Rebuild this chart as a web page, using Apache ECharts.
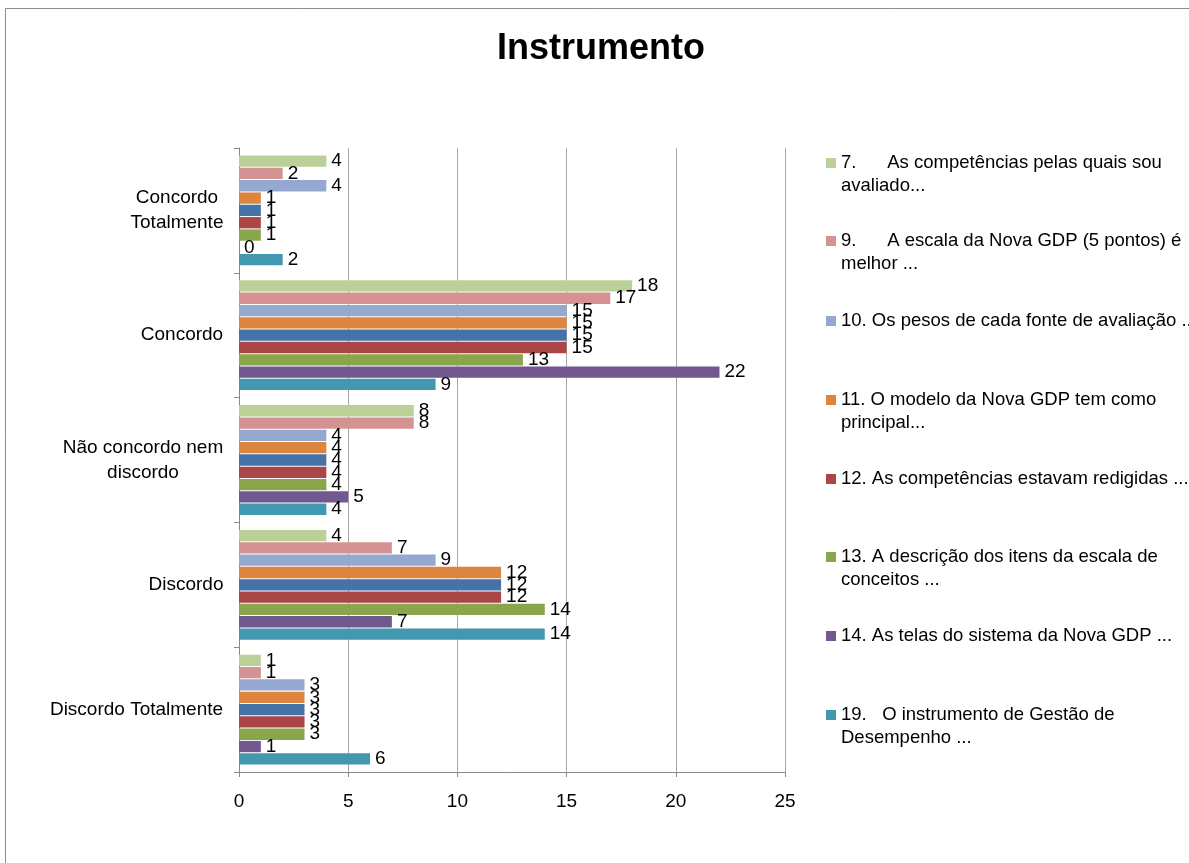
<!DOCTYPE html>
<html>
<head>
<meta charset="utf-8">
<title>Instrumento</title>
<script src="https://cdn.jsdelivr.net/npm/echarts@6/dist/echarts.min.js"></script>
<style>
  html, body { margin: 0; padding: 0; background: #fff; }
  #chart { width: 1189px; height: 863px; }
</style>
</head>
<body>
<div id="chart"></div>
<script>
// Response categories, top to bottom
const categories = [
  'Concordo\nTotalmente',
  'Concordo',
  'Não concordo nem\ndiscordo',
  'Discordo',
  'Discordo Totalmente'
];

// Counts per statement (same order as categories)
const q7  = [4, 18, 8, 4, 1];
const q9  = [2, 17, 8, 7, 1];
const q10 = [4, 15, 4, 9, 3];
const q11 = [1, 15, 4, 12, 3];
const qSemLegenda = [1, 15, 4, 12, 3];
const q12 = [1, 15, 4, 12, 3];
const q13 = [1, 13, 4, 14, 3];
const q14 = [0, 22, 5, 7, 1];
const q19 = [2, 9, 4, 14, 6];

const statementNames = [
  '7.      As competências pelas quais sou\navaliado...',
  '9.      A escala da Nova GDP (5 pontos) é\nmelhor ...',
  '10. Os pesos de cada fonte de avaliação ...',
  '11. O modelo da Nova GDP tem como\nprincipal...',
  'Série sem legenda',
  '12. As competências estavam redigidas ...',
  '13. A descrição dos itens da escala de\nconceitos ...',
  '14. As telas do sistema da Nova GDP ...',
  '19.   O instrumento de Gestão de\nDesempenho ...'
];
const statementValues = [q7, q9, q10, q11, qSemLegenda, q12, q13, q14, q19];
const legendNames = [0, 1, 2, 3, 5, 6, 7, 8].map(i => statementNames[i]);

// Value axis ticks
const xMin = 0, xMax = 25, xStep = 5;

// ---- styling / layout ----
const FONT = '"Liberation Sans", Arial, sans-serif';
const palette = ['#BBD098', '#D49392', '#95A9D0', '#DD843E', '#4572A7',
                 '#AA4645', '#8AA64D', '#71588F', '#4298AF'];
// vertical centre of each legend marker
const legendMarkerY = [163, 241, 321, 400, 479, 557, 636, 715];
const LEGEND_LINE = 23;

// width of the widest line of each category label, so lines can be centred
const measureCtx = document.createElement('canvas').getContext('2d');
measureCtx.font = '19px "Liberation Sans", Arial, sans-serif';
const rich = {};
categories.forEach((c, i) => {
  const w = Math.max(...c.split('\n').map(l => measureCtx.measureText(l).width));
  rich['c' + i] = { width: Math.ceil(w) + 1, align: 'center', fontSize: 19,
                    lineHeight: 25, color: '#000', fontFamily: FONT };
});

// One legend block per statement; two-line names get an empty first line so
// the marker sits beside the first line of text.
const legends = legendNames.map((name, k) => {
  const twoLine = name.indexOf('\n') >= 0;
  const blockH = (twoLine ? 3 : 1) * LEGEND_LINE;
  return {
    data: [name],
    orient: 'vertical',
    left: 826,
    top: legendMarkerY[k] - blockH / 2,
    padding: 0,
    itemWidth: 10,
    itemHeight: 10,
    icon: 'rect',
    selectedMode: false,
    formatter: n => (twoLine ? ' \n' + n : n),
    textStyle: {
      fontFamily: FONT,
      fontSize: 18.5,
      color: '#000',
      lineHeight: LEGEND_LINE
    }
  };
});

const series = statementNames.map((name, i) => ({
  name: name,
  type: 'bar',
  data: statementValues[i],
  barCategoryGap: '12%',
  barGap: '9%',
  itemStyle: { color: palette[i] },
  label: {
    show: true,
    position: 'right',
    distance: 5,
    fontFamily: FONT,
    fontSize: 19,
    color: '#000'
  },
  emphasis: { disabled: true }
}));

const chart = echarts.init(document.getElementById('chart'), null, { renderer: 'canvas' });
chart.setOption({
  backgroundColor: '#fff',
  animation: false,
  title: {
    text: 'Instrumento',
    left: 596,
    textAlign: 'center',
    top: 26,
    textStyle: { fontFamily: FONT, fontSize: 36, fontWeight: 'bold', color: '#000' }
  },
  graphic: [{
    type: 'rect',
    silent: true,
    z: -10,
    shape: { x: 5.5, y: 8.5, width: 1400, height: 1000 },
    style: { fill: null, stroke: '#8c8c8c', lineWidth: 1 }
  }],
  legend: legends,
  grid: { left: 239, right: 404, top: 148, bottom: 91, containLabel: false },
  xAxis: {
    type: 'value',
    min: xMin,
    max: xMax,
    interval: xStep,
    axisLine: { show: true, lineStyle: { color: '#888' } },
    axisTick: { show: true, length: 5, lineStyle: { color: '#888' } },
    splitLine: { show: true, lineStyle: { color: '#a8a8a8' } },
    axisLabel: { fontFamily: FONT, fontSize: 19, color: '#000', margin: 20 }
  },
  yAxis: {
    type: 'category',
    inverse: true,
    data: categories,
    axisLine: { show: true, lineStyle: { color: '#888' } },
    axisTick: { show: true, length: 5, lineStyle: { color: '#888' } },
    axisLabel: {
      margin: 15,
      fontFamily: FONT,
      fontSize: 19,
      color: '#000',
      formatter: (value, index) =>
        value.split('\n').map(l => '{c' + index + '|' + l + '}').join('\n'),
      rich: rich
    }
  },
  series: series
});
</script>
</body>
</html>
